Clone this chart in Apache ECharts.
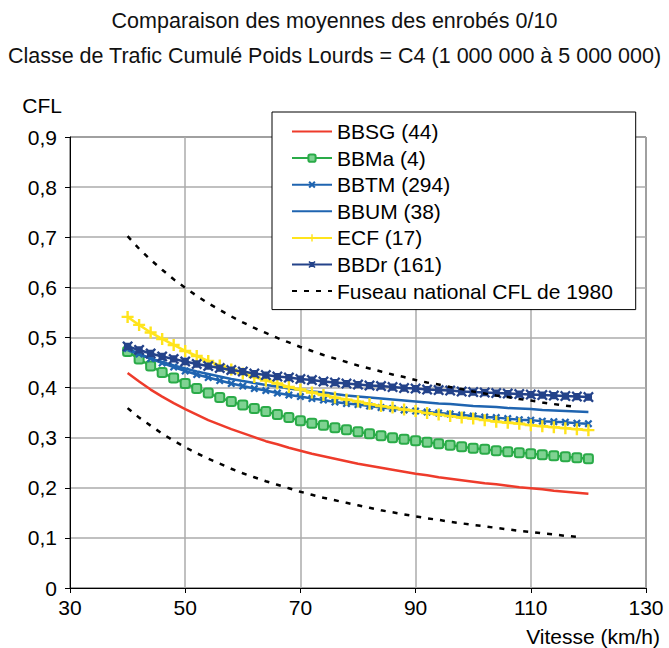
<!DOCTYPE html>
<html>
<head>
<meta charset="utf-8">
<script src="https://cdn.jsdelivr.net/npm/echarts@6/dist/echarts.min.js"></script>
<style>
html,body{margin:0;padding:0;background:#fff;}
#chart{width:669px;height:648px;}
</style>
</head>
<body>
<div id="chart"></div>
<script>
var titleLines = ['Comparaison des moyennes des enrobés 0/10', 'Classe de Trafic Cumulé Poids Lourds = C4 (1 000 000 à 5 000 000)'];
var xTicks = [30, 50, 70, 90, 110, 130];
var yTicks = [0, 0.1, 0.2, 0.3, 0.4, 0.5, 0.6, 0.7, 0.8, 0.9];

var speeds = [40,42,44,46,48,50,52,54,56,58,60,62,64,66,68,70,72,74,76,78,80,82,84,86,88,90,92,94,96,98,100,102,104,106,108,110,112,114,116,118,120];
var speedsFuseau = [40,42,44,46,48,50,52,54,56,58,60,62,64,66,68,70,72,74,76,78,80,82,84,86,88,90,92,94,96,98,100,102,104,106,108,110,112,114,116,118];

var names = ['BBSG (44)', 'BBMa (4)', 'BBTM (294)', 'BBUM (38)', 'ECF (17)', 'BBDr (161)', 'Fuseau national CFL de 1980'];

var bbsg = [0.429,0.412,0.396,0.382,0.369,0.357,0.346,0.335,0.326,0.317,0.309,0.301,0.293,0.287,0.280,0.274,0.268,0.263,0.258,0.253,0.248,0.244,0.240,0.236,0.232,0.228,0.225,0.221,0.218,0.215,0.212,0.209,0.207,0.204,0.201,0.199,0.197,0.194,0.192,0.190,0.188];
var bbma = [0.472,0.457,0.443,0.430,0.419,0.408,0.398,0.389,0.380,0.372,0.365,0.358,0.352,0.346,0.340,0.334,0.329,0.325,0.320,0.316,0.312,0.308,0.304,0.300,0.297,0.294,0.291,0.288,0.285,0.282,0.279,0.277,0.274,0.272,0.270,0.268,0.266,0.264,0.262,0.260,0.258];
var bbtm = [0.478,0.467,0.458,0.449,0.441,0.433,0.426,0.420,0.414,0.408,0.403,0.398,0.394,0.389,0.385,0.382,0.378,0.375,0.371,0.368,0.366,0.363,0.360,0.358,0.355,0.353,0.351,0.349,0.347,0.345,0.343,0.341,0.340,0.338,0.336,0.335,0.333,0.332,0.331,0.329,0.328];
var bbum = [0.475,0.466,0.458,0.451,0.444,0.438,0.432,0.427,0.422,0.417,0.413,0.409,0.405,0.402,0.398,0.395,0.392,0.390,0.387,0.384,0.382,0.380,0.378,0.376,0.374,0.372,0.370,0.368,0.367,0.365,0.363,0.362,0.361,0.359,0.358,0.357,0.355,0.354,0.353,0.352,0.351];
var ecf = [0.541,0.525,0.510,0.497,0.485,0.473,0.463,0.453,0.444,0.436,0.428,0.421,0.414,0.408,0.401,0.396,0.390,0.385,0.380,0.376,0.372,0.367,0.363,0.360,0.356,0.353,0.349,0.346,0.343,0.340,0.338,0.335,0.332,0.330,0.328,0.325,0.323,0.321,0.319,0.317,0.315];
var bbdr = [0.482,0.475,0.468,0.462,0.457,0.452,0.447,0.443,0.439,0.435,0.432,0.428,0.425,0.422,0.420,0.417,0.415,0.412,0.410,0.408,0.406,0.404,0.403,0.401,0.399,0.398,0.396,0.395,0.394,0.392,0.391,0.390,0.389,0.388,0.387,0.386,0.385,0.384,0.383,0.382,0.381];
var fuseauHaut = [0.702,0.677,0.655,0.635,0.616,0.599,0.583,0.568,0.555,0.542,0.530,0.519,0.509,0.499,0.490,0.481,0.473,0.465,0.458,0.451,0.444,0.438,0.432,0.426,0.421,0.415,0.410,0.406,0.401,0.397,0.392,0.388,0.384,0.381,0.377,0.374,0.370,0.367,0.364,0.361];
var fuseauBas = [0.359,0.340,0.324,0.308,0.294,0.281,0.269,0.258,0.248,0.238,0.229,0.221,0.213,0.206,0.199,0.192,0.186,0.180,0.175,0.170,0.165,0.160,0.155,0.151,0.147,0.143,0.139,0.136,0.132,0.129,0.126,0.123,0.120,0.117,0.114,0.112,0.109,0.107,0.104,0.102];

function pairs(xs, ys) { return xs.map(function (x, i) { return [x, ys[i]]; }); }

var FONT = '"Liberation Sans", Arial, sans-serif';
var SYM_X = 'path://M0,2 L2,0 L5,3 L8,0 L10,2 L7,5 L10,8 L8,10 L5,7 L2,10 L0,8 L3,5 Z';
var SYM_PLUS = 'path://M4,0 L6,0 L6,4 L10,4 L10,6 L6,6 L6,10 L4,10 L4,6 L0,6 L0,4 L4,4 Z';
var SYM_STAR = 'path://M0,1.5 L1.5,0 L3.2,1.7 L6.8,1.7 L8.5,0 L10,1.5 L8.3,3.2 L8.3,6.8 L10,8.5 L8.5,10 L6.8,8.3 L3.2,8.3 L1.5,10 L0,8.5 L1.7,6.8 L1.7,3.2 Z';

var noSymbol = {itemStyle: {opacity: 0}};
var legendData = names.map(function (n, i) {
  if (i === 0 || i === 3 || i === 6) { return {name: n, itemStyle: {opacity: 0}}; }
  return {name: n};
});

var chart = echarts.init(document.getElementById('chart'), null, {renderer: 'svg'});
chart.setOption({
  animation: false,
  backgroundColor: '#fff',
  textStyle: {fontFamily: FONT, color: '#000'},
  title: {
    text: titleLines.join('\n'),
    left: 'center',
    top: 3,
    padding: 0,
    textStyle: {fontFamily: FONT, fontSize: 21.5, fontWeight: 'normal', color: '#111', lineHeight: 35}
  },
  grid: {left: 70, right: 23, top: 137, bottom: 60, show: true, borderColor: '#000', borderWidth: 1, backgroundColor: 'transparent'},
  legend: {
    orient: 'vertical',
    left: 272,
    top: 112,
    data: legendData,
    backgroundColor: '#fff',
    borderColor: '#000',
    borderWidth: 1,
    borderRadius: 0,
    padding: [9, 22, 8, 19],
    itemWidth: 40,
    itemHeight: 9,
    itemGap: 5.6,
    textStyle: {fontFamily: FONT, fontSize: 21, color: '#000', lineHeight: 21},
    z: 10
  },
  xAxis: {
    type: 'value',
    min: xTicks[0],
    max: xTicks[xTicks.length - 1],
    interval: 20,
    name: 'Vitesse (km/h)',
    nameLocation: 'end',
    nameGap: 14,
    nameTextStyle: {fontFamily: FONT, fontSize: 21, color: '#000', align: 'right', verticalAlign: 'top', padding: [38, 0, 0, 0]},
    axisLine: {show: true, lineStyle: {color: '#000', width: 1}},
    axisTick: {show: true, length: 5, lineStyle: {color: '#000'}},
    axisLabel: {fontFamily: FONT, fontSize: 21, color: '#000', margin: 9},
    splitLine: {show: true, lineStyle: {color: '#ababab', width: 1.5}}
  },
  yAxis: {
    type: 'value',
    min: yTicks[0],
    max: yTicks[yTicks.length - 1],
    interval: 0.1,
    name: 'CFL',
    nameLocation: 'end',
    nameGap: 21,
    nameTextStyle: {fontFamily: FONT, fontSize: 21, color: '#000', align: 'right', padding: [0, 8, 0, 0]},
    axisLine: {show: true, lineStyle: {color: '#000', width: 1}},
    axisTick: {show: true, length: 5, lineStyle: {color: '#000'}},
    axisLabel: {fontFamily: FONT, fontSize: 21, color: '#000', margin: 13,
      formatter: function (v) { return v === 0 ? '0' : v.toFixed(1).replace('.', ','); }},
    splitLine: {show: true, lineStyle: {color: '#ababab', width: 1.5}}
  },
  series: [
    {name: names[0], type: 'line', data: pairs(speeds, bbsg), symbol: 'none', lineStyle: {color: '#ee3b2b', width: 2.5}, itemStyle: {color: '#ee3b2b'}, z: 2},
    {name: names[1], type: 'line', data: pairs(speeds, bbma), symbol: 'roundRect', symbolSize: 9,
      lineStyle: {color: '#2aab48', width: 2.5}, itemStyle: {color: '#7fd292', borderColor: '#2aab48', borderWidth: 2}, z: 3},
    {name: names[2], type: 'line', data: pairs(speeds, bbtm), symbol: SYM_X, symbolSize: 8,
      lineStyle: {color: '#1f64b0', width: 2.5}, itemStyle: {color: '#1f64b0'}, z: 4},
    {name: names[3], type: 'line', data: pairs(speeds, bbum), symbol: 'none', lineStyle: {color: '#1f64b0', width: 2.5}, itemStyle: {color: '#1f64b0'}, z: 4},
    {name: names[4], type: 'line', data: pairs(speeds, ecf), symbol: SYM_PLUS, symbolSize: 12,
      lineStyle: {color: '#ffe41c', width: 2.5}, itemStyle: {color: '#ffe41c'}, z: 5},
    {name: names[5], type: 'line', data: pairs(speeds, bbdr), symbol: SYM_STAR, symbolSize: 11,
      lineStyle: {color: '#24438a', width: 2.5}, itemStyle: {color: '#24438a'}, z: 6},
    {name: names[6], type: 'line', data: pairs(speedsFuseau, fuseauHaut), symbol: 'none',
      lineStyle: {color: '#000', width: 2.5, type: [5, 7]}, itemStyle: {color: '#000'}, z: 7},
    {name: names[6], type: 'line', data: pairs(speedsFuseau, fuseauBas), symbol: 'none',
      lineStyle: {color: '#000', width: 2.5, type: [5, 7]}, itemStyle: {color: '#000'}, z: 7}
  ]
});
</script>
</body>
</html>
